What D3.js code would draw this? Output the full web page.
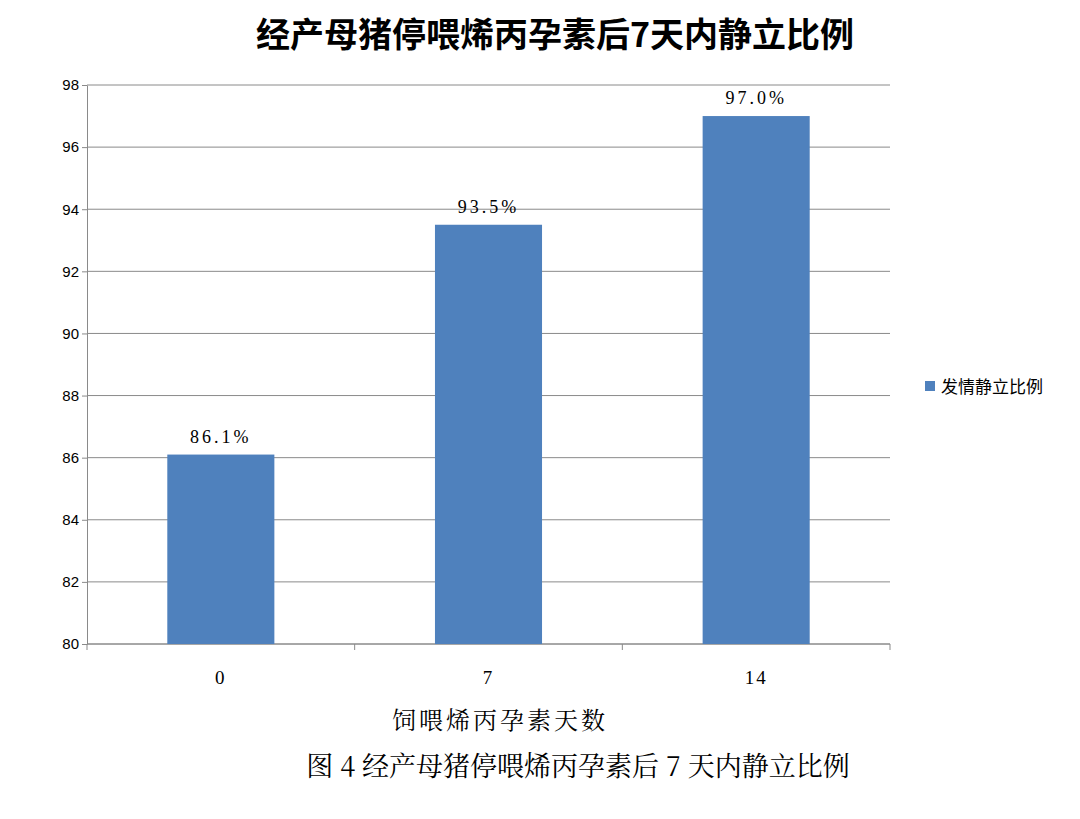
<!DOCTYPE html>
<html><head><meta charset="utf-8">
<script src="https://cdn.jsdelivr.net/npm/d3@7"></script>
<style>body{margin:0;background:#fff}</style></head>
<body><svg id="c" width="1080" height="819"></svg>
<script>
const categories=["0","7","14"];
const values=[86.1,93.5,97.0];
const labels=["86.1%","93.5%","97.0%"];
const yTicks=[80,82,84,86,88,90,92,94,96,98];
const seriesName="发情静立比例";
const svg=d3.select("#c");
const L=87,R=890,T=85,B=644;
const x=d3.scaleBand().domain(categories).range([L,R]).paddingInner(0.6).paddingOuter(0.3);
const y=d3.scaleLinear().domain([80,98]).range([B,T]);
svg.append("g").selectAll("line").data(yTicks).join("line")
 .attr("x1",L).attr("x2",R).attr("y1",d=>y(d)).attr("y2",d=>y(d)).attr("stroke","#8a8a8a").attr("stroke-width",1);
const ya=svg.append("g").attr("transform",`translate(${L},0)`).call(d3.axisLeft(y).tickValues(yTicks).tickSize(5).tickSizeOuter(0));
ya.selectAll("text").attr("font-family","Liberation Sans, Arial").attr("font-size",15).attr("fill","#000");
ya.selectAll("path,line").attr("stroke","#8a8a8a");
const bw=(R-L)/3;
svg.append("line").attr("x1",L).attr("x2",R).attr("y1",B).attr("y2",B).attr("stroke","#8a8a8a");
svg.append("g").selectAll("line").data([0,1,2,3]).join("line")
 .attr("x1",d=>L+d*bw).attr("x2",d=>L+d*bw).attr("y1",B).attr("y2",B+6).attr("stroke","#8a8a8a");
svg.append("g").selectAll("rect").data(values).join("rect")
 .attr("x",(d,i)=>x(categories[i])).attr("width",x.bandwidth()).attr("y",d=>y(d)).attr("height",d=>B-y(d)).attr("fill","#4F81BD");
svg.append("g").selectAll("text").data(labels).join("text")
 .attr("x",(d,i)=>x(categories[i])+x.bandwidth()/2).attr("y",(d,i)=>y(values[i])-12)
 .attr("text-anchor","middle").attr("font-family","Liberation Serif, serif").attr("font-size",18).attr("letter-spacing",3).text(d=>d);
svg.append("g").selectAll("text").data(categories).join("text")
 .attr("x",d=>x(d)+x.bandwidth()/2).attr("y",684).attr("text-anchor","middle")
 .attr("font-family","Liberation Serif, serif").attr("font-size",19).attr("letter-spacing",2).text(d=>d);
svg.append("text").attr("x",555).attr("y",47).attr("text-anchor","middle").attr("font-family","Noto Sans CJK SC").attr("font-weight","bold").attr("font-size",34).text("经产母猪停喂烯丙孕素后7天内静立比例");
svg.append("rect").attr("x",925).attr("y",381).attr("width",10).attr("height",10).attr("fill","#4F81BD");
svg.append("text").attr("x",941).attr("y",393).attr("font-family","Noto Sans CJK SC").attr("font-size",17).text(seriesName);
svg.append("text").attr("x",500).attr("y",729).attr("text-anchor","middle").attr("font-family","Noto Serif CJK SC, Noto Sans CJK SC").attr("font-size",24).attr("letter-spacing",3).text("饲喂烯丙孕素天数");
svg.append("text").attr("x",578).attr("y",776).attr("text-anchor","middle").attr("font-family","Noto Serif CJK SC, Noto Sans CJK SC").attr("font-size",27).text("图 4 经产母猪停喂烯丙孕素后 7 天内静立比例");
</script></body></html>
